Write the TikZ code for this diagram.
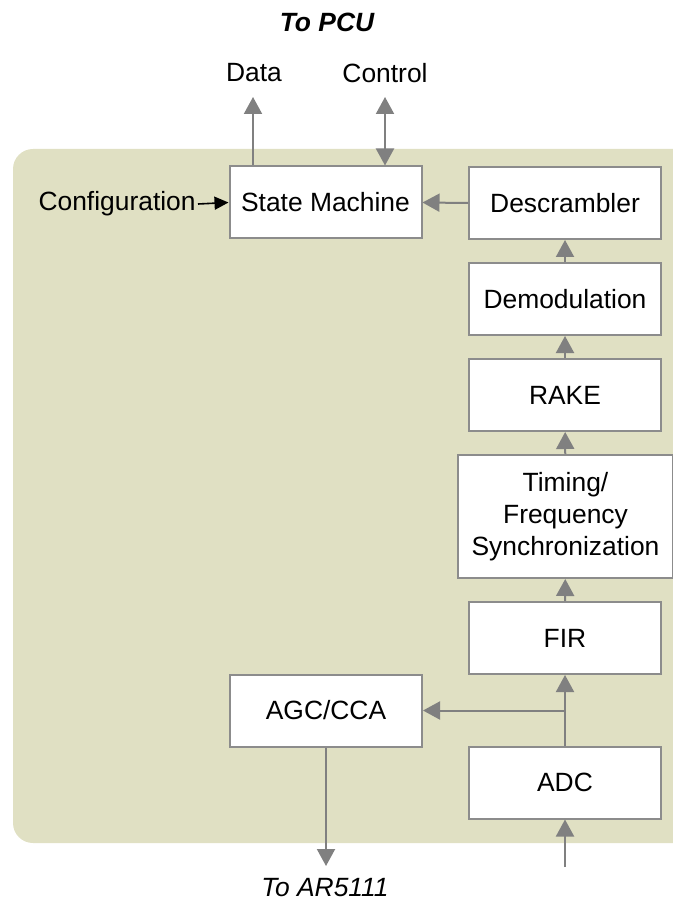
\documentclass[tikz,border=0pt]{standalone}
\usepackage{fontspec}
\setmainfont{Liberation Sans}
\usetikzlibrary{arrows.meta}
\definecolor{panel}{RGB}{224,224,195}
\definecolor{linegray}{RGB}{128,128,128}
\definecolor{boxgray}{RGB}{140,140,140}
\begin{document}
\begin{tikzpicture}[x=0.5pt,y=-0.5pt,
  font=\fontsize{13.2}{16}\selectfont,
  blk/.style={draw=boxgray,line width=1pt,fill=white,minimum width=96pt,
              minimum height=36pt,inner sep=0pt,align=center},
  arr/.style={draw=linegray,line width=1pt,-{Triangle[length=8.5pt,width=9pt]}},
  darr/.style={arr,{Triangle[length=8.5pt,width=9pt]}-{Triangle[length=8.5pt,width=9pt]}},
  cfgarr/.style={draw=black,line width=0.8pt,-{Triangle[length=7pt,width=6.5pt]}}]
  \clip (0,0) rectangle (673,903);
  \fill[panel,rounded corners=10pt] (13,149) rectangle (700,843);

  \node[blk] (sm) at (325.5,202.5) {State Machine};
  \node[blk] (desc) at (565,203) {Descrambler};
  \node[blk] (demod) at (565,299) {Demodulation};
  \node[blk] (rake) at (565,395) {RAKE};
  \node[blk,minimum width=107.5pt,minimum height=61.5pt] (sync) at (565.5,516.5)
    {Timing/\\Frequency\\Synchronization};
  \node[blk] (fir) at (565,638) {FIR};
  \node[blk] (agc) at (326,710.5) {AGC/CCA};
  \node[blk] (adc) at (565,782.5) {ADC};

  \node (pcu) at (327,22) {\bfseries\itshape To PCU};
  \node (data) at (254,73) {Data};
  \node (ctrl) at (385,73) {Control};
  \node[inner sep=1pt,anchor=east] (cfg) at (198,204) {Configuration};
  \node (ar) at (325,888) {\itshape To AR5111};

  \coordinate (dtip) at (253,97);
  \coordinate (ctip) at (385,97);
  \coordinate (outtip) at (326,866);
  \coordinate (intail) at (565,867);

  \draw[arr] (sm.north -| dtip) -- (dtip);
  \draw[darr] (sm.north -| ctip) -- (ctip);
  \draw[cfgarr] (cfg.east) -- (sm.west);
  \draw[arr] (desc.west) -- (sm.east);
  \draw[arr] (demod) -- (desc);
  \draw[arr] (rake) -- (demod);
  \draw[arr] (sync) -- (rake);
  \draw[arr] (fir) -- (sync);
  \draw[arr] (adc) -- (fir);
  \draw[arr] (adc.north |- agc.east) -- (agc.east);
  \draw[arr] (agc.south) -- (outtip);
  \draw[arr] (intail) -- (adc.south);
\end{tikzpicture}
\end{document}
